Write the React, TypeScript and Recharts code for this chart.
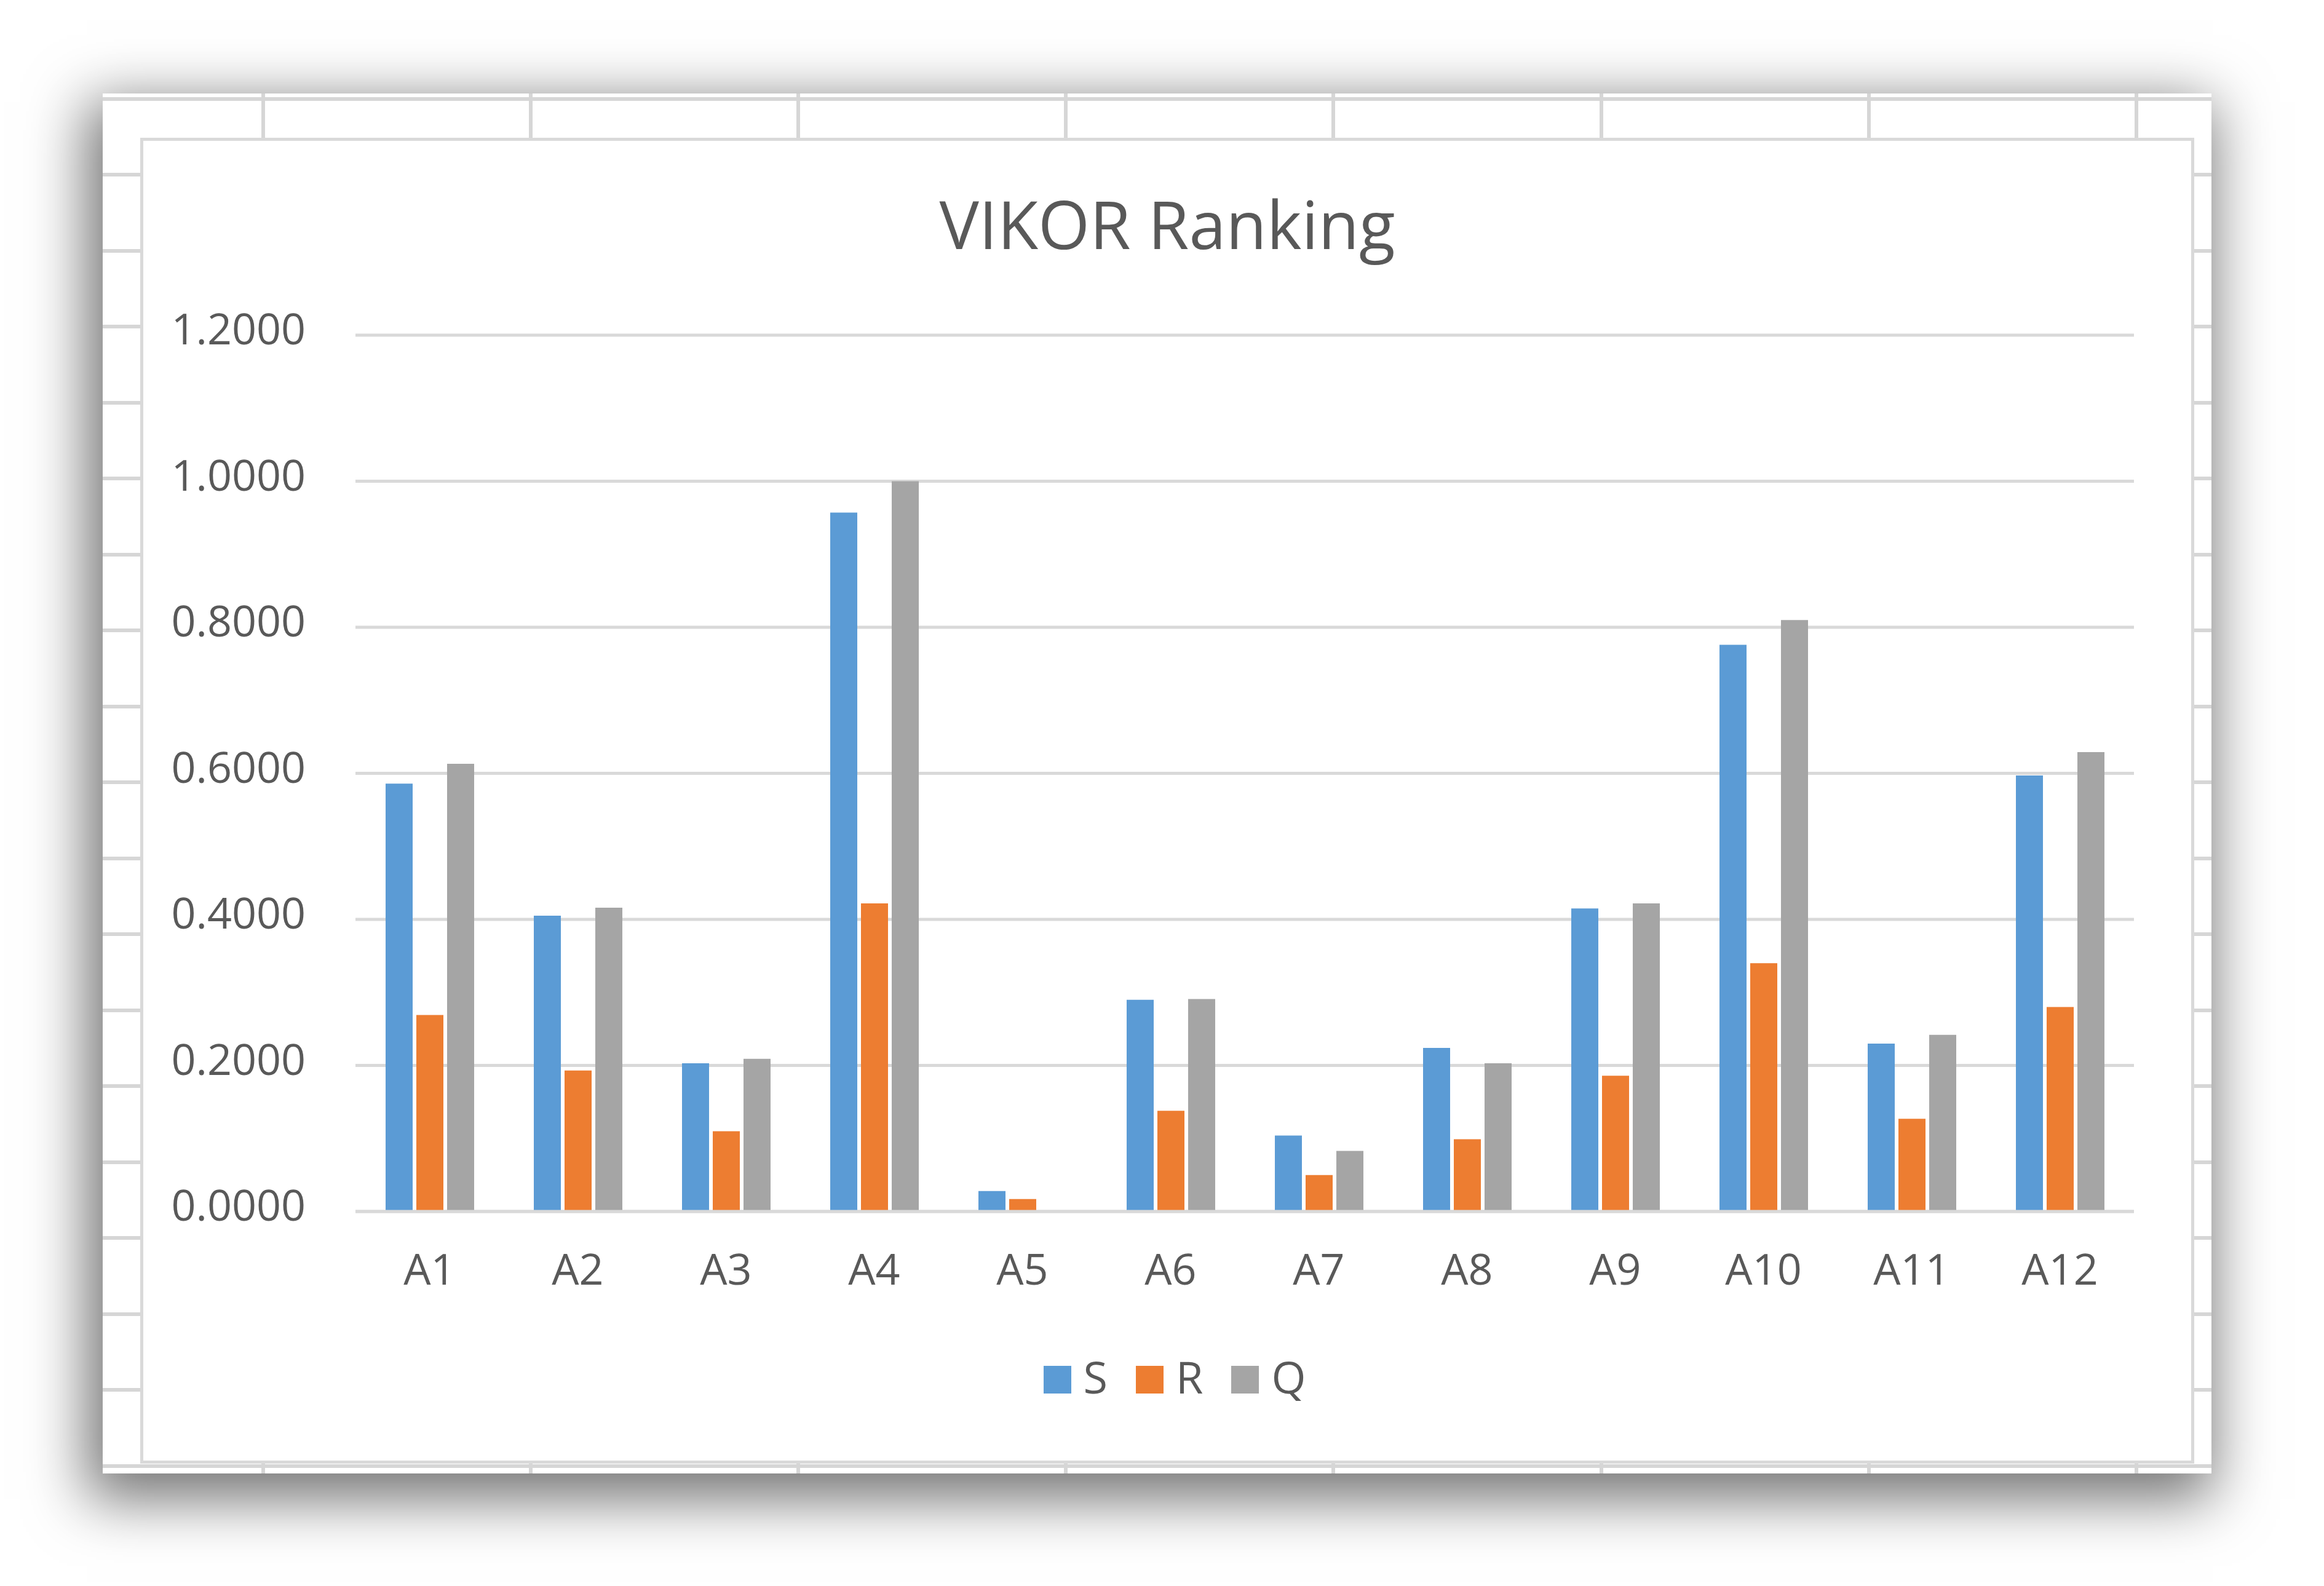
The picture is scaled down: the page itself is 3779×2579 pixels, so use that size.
import React from 'react';
import { BarChart, Bar, XAxis, YAxis, CartesianGrid, Legend } from 'recharts';

// VIKOR Ranking - clustered columns (S, R, Q) for alternatives A1..A12,
// drawn on a piece of spreadsheet with a drop shadow like the screenshot.

const CATEGORIES = ['A1', 'A2', 'A3', 'A4', 'A5', 'A6', 'A7', 'A8', 'A9', 'A10', 'A11', 'A12'];
const S_VALUES = [0.586, 0.405, 0.203, 0.957, 0.028, 0.29, 0.104, 0.224, 0.415, 0.776, 0.23, 0.597];
const R_VALUES = [0.269, 0.193, 0.11, 0.422, 0.017, 0.138, 0.05, 0.099, 0.186, 0.34, 0.127, 0.28];
const Q_VALUES = [0.613, 0.416, 0.209, 1.0, 0.0, 0.291, 0.083, 0.203, 0.422, 0.81, 0.242, 0.629];
const Y_TICKS = [0, 0.2, 0.4, 0.6, 0.8, 1.0, 1.2];

const SERIES = [
  { key: 'S', color: '#5B9BD5' },
  { key: 'R', color: '#ED7D31' },
  { key: 'Q', color: '#A5A5A5' },
];

const data = CATEGORIES.map((name, i) => ({
  name,
  S: S_VALUES[i],
  R: R_VALUES[i],
  Q: Q_VALUES[i],
}));

const FONT = '"Open Sans", "Noto Sans", sans-serif';
const TEXT = '#595959';
const GRID = '#d9d9d9';
const SHEET_LINE = '#d6d6d6';

const CHART_W = 3330;
const CHART_H = 2146;

function YTick({ x, y, payload }: any) {
  return (
    <text x={x} y={y + 15} textAnchor="end" fill={TEXT} fontSize={70} fontFamily={FONT}>
      {Number(payload.value).toFixed(4)}
    </text>
  );
}

function XTick({ x, y, payload }: any) {
  return (
    <text x={x} y={y + 119} textAnchor="middle" fill={TEXT} fontSize={70} fontFamily={FONT}>
      {payload.value}
    </text>
  );
}

function LegendContent({ payload }: any) {
  // keep series order S, R, Q (legend sorts by name otherwise)
  const order = SERIES.map((s) => s.key);
  const items = [...(payload || [])].sort(
    (a: any, b: any) => order.indexOf(a.dataKey ?? a.value) - order.indexOf(b.dataKey ?? b.value),
  );
  return (
    <div
      style={{
        display: 'flex',
        justifyContent: 'center',
        alignItems: 'baseline',
        paddingLeft: 24,
        fontFamily: FONT,
        fontSize: 72,
        lineHeight: '72px',
        color: TEXT,
      }}
    >
      {items.map((p: any, i: number) => (
        <span key={p.value} style={{ display: 'flex', alignItems: 'baseline', marginLeft: i === 0 ? 0 : 46 }}>
          <span style={{ display: 'inline-block', width: 45, height: 45, background: p.color, marginRight: 20 }} />
          <span>{p.value}</span>
        </span>
      ))}
    </div>
  );
}

// spreadsheet cell lines behind the chart
function SheetLines() {
  const rows = Array.from({ length: 19 }, (_, k) => 8.5 + 123.5 * k);
  const cols = Array.from({ length: 8 }, (_, k) => 261 + 435.1 * k);
  return (
    <>
      {rows.map((y) => (
        <div key={'r' + y} style={{ position: 'absolute', left: 0, right: 0, top: y - 3, height: 6, background: SHEET_LINE }} />
      ))}
      {cols.map((x) => (
        <div key={'c' + x} style={{ position: 'absolute', top: 0, bottom: 0, left: x - 3, width: 6, background: SHEET_LINE }} />
      ))}
    </>
  );
}

export default function App() {
  return (
    <div style={{ position: 'absolute', left: 0, top: 0, width: 3779, height: 2579, background: '#fff', overflow: 'hidden' }}>
      {/* Sheet */}
      <div
        style={{
          position: 'absolute',
          left: 167,
          top: 152,
          width: 3429,
          height: 2244,
          background: '#fff',
          boxShadow: '-12px 28px 90px 14px rgba(0,0,0,0.55)',
          overflow: 'hidden',
        }}
      >
        <SheetLines />
      </div>

      {/* Chart area */}
      <div
        style={{
          position: 'absolute',
          left: 228,
          top: 224,
          width: CHART_W,
          height: CHART_H,
          border: `5px solid ${GRID}`,
          background: '#fff',
        }}
      >
        <svg
          width={CHART_W}
          height={300}
          style={{ position: 'absolute', left: 0, top: 0, pointerEvents: 'none' }}
        >
          <text x={CHART_W / 2} y={176} textAnchor="middle" fill={TEXT} fontSize={108} fontFamily={FONT}>
            VIKOR Ranking
          </text>
        </svg>

        <BarChart
          width={CHART_W}
          height={CHART_H}
          data={data}
          margin={{ top: 316, right: 93, left: 0, bottom: 255 }}
          barSize={44}
          barGap={6}
        >
          <CartesianGrid vertical={false} stroke={GRID} strokeWidth={5} />
          <XAxis
            dataKey="name"
            height={150}
            tickSize={0}
            tickMargin={0}
            tickLine={false}
            axisLine={{ stroke: GRID, strokeWidth: 5 }}
            tick={<XTick />}
            interval={0}
          />
          <YAxis
            width={345}
            domain={[0, 1.2]}
            ticks={Y_TICKS}
            tickSize={0}
            tickMargin={81}
            tickLine={false}
            axisLine={false}
            tick={<YTick />}
            interval={0}
          />
          <Legend
            layout="horizontal"
            verticalAlign="middle"
            align="center"
            wrapperStyle={{ top: 1973, left: 0, width: CHART_W }}
            content={<LegendContent />}
          />
          {SERIES.map((s) => (
            <Bar key={s.key} dataKey={s.key} fill={s.color} isAnimationActive={false} />
          ))}
        </BarChart>
      </div>
    </div>
  );
}
